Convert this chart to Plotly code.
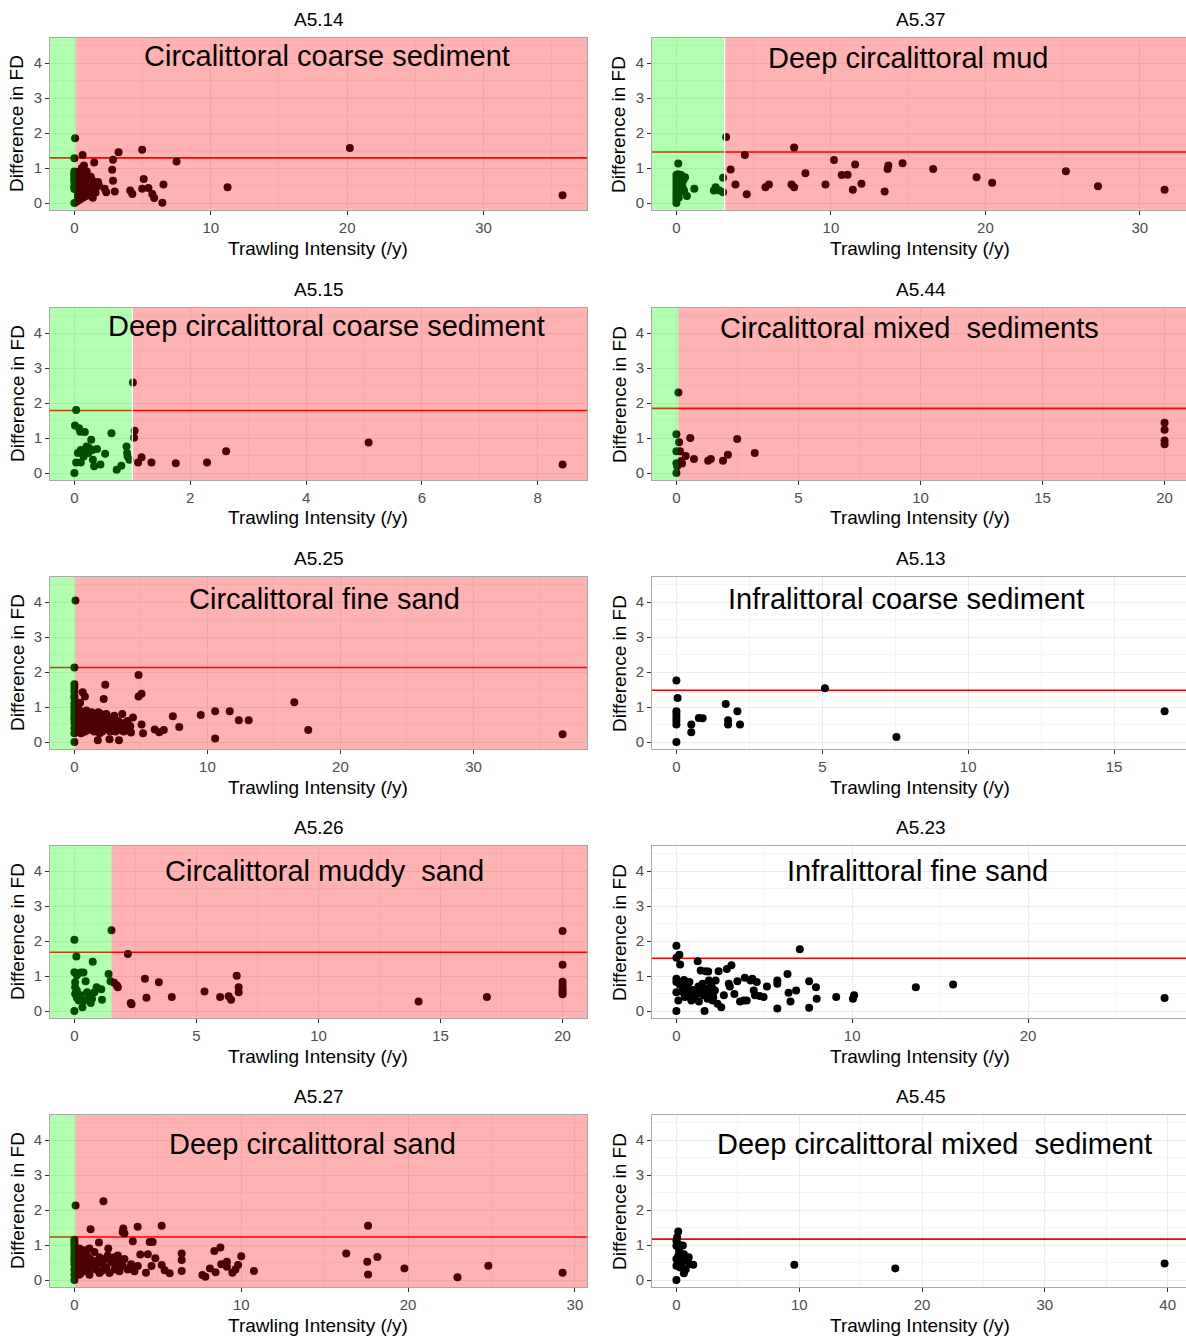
import plotly.graph_objects as go

# ---------------- data ----------------
codes = ["A5.14", "A5.37", "A5.15", "A5.44", "A5.25", "A5.13", "A5.26", "A5.23", "A5.27", "A5.45"]
habitats = ["Circalittoral coarse sediment", "Deep circalittoral mud",
            "Deep circalittoral coarse sediment", "Circalittoral mixed  sediments",
            "Circalittoral fine sand", "Infralittoral coarse sediment",
            "Circalittoral muddy  sand", "Infralittoral fine sand",
            "Deep circalittoral sand", "Deep circalittoral mixed  sediment"]
fd_threshold = [1.29, 1.46, 1.79, 1.85, 2.13, 1.48, 1.68, 1.51, 1.23, 1.17]
ti_threshold = [0.1, 3.12, 1.0, 0.08, 0.05, None, 1.52, None, 0.05, None]
x_dtick = [10, 10, 2, 5, 10, 5, 5, 10, 10, 10]

pts_a514 = [(0, 0.0), (0, 0.4), (0, 0.45), (0, 0.5), (0, 0.6), (0, 0.65), (0, 0.7), (0, 0.75), (0, 0.8),
            (0, 0.85), (0, 0.9), (0, 1.28), (0.05, 1.85),
            (0.2, 0.05), (0.25, 0.2), (0.3, 0.35), (0.3, 0.55), (0.35, 0.75), (0.4, 0.9), (0.45, 0.45),
            (0.5, 0.25), (0.5, 0.6), (0.55, 1.0), (0.6, 1.37), (0.63, 0.15), (0.7, 1.07), (0.7, 0.5),
            (0.75, 0.35), (0.8, 0.65), (0.85, 0.2), (0.9, 0.45), (0.95, 0.55), (1.0, 0.3), (1.05, 0.7),
            (1.1, 0.45), (1.15, 0.6), (1.2, 0.25), (1.25, 0.5), (1.3, 0.65), (1.35, 0.15), (1.4, 0.4),
            (1.45, 1.16), (1.5, 0.55), (1.55, 0.3), (1.6, 0.45), (1.8, 0.5), (0.4, 0.1), (0.6, 0.8),
            (0.9, 0.9), (1.2, 0.75), (0.35, 0.65), (0.55, 0.4), (0.25, 0.3), (0.45, 0.7), (0.65, 0.55),
            (0.85, 0.35), (1.73, 0.6), (2.22, 0.41), (2.33, 0.31), (2.77, 0.95), (2.83, 1.24), (2.83, 0.64),
            (2.96, 0.33), (3.24, 1.45), (4.09, 0.36), (4.25, 0.26), (4.97, 1.52), (4.97, 0.41), (5.08, 0.69),
            (5.43, 0.43), (5.71, 0.26), (5.85, 0.14), (6.45, 0.01), (6.53, 0.53), (7.49, 1.19), (11.23, 0.45),
            (20.2, 1.57), (35.8, 0.22)]

pts_a537 = [(0, 0), (0, 0.1), (0, 0.2), (0, 0.3), (0, 0.4), (0, 0.5), (0, 0.6), (0, 0.7), (0, 0.8),
            (0.05, 0.25), (0.05, 0.55), (0.1, 0.35), (0.1, 0.65), (0.1, 0.82), (0.15, 0.15), (0.15, 0.45),
            (0.2, 0.3), (0.2, 0.75), (0.25, 0.5), (0.25, 0.6), (0.3, 0.4), (0.3, 0.8), (0.35, 0.55),
            (0.4, 0.45), (0.45, 0.65), (0.5, 0.35), (0.56, 0.74), (0.68, 0.2), (0.12, 1.13),
            (1.16, 0.41), (2.42, 0.36), (2.54, 0.45), (2.78, 0.36), (3.02, 0.72), (3.02, 0.31),
            (3.22, 1.89), (3.51, 0.96), (3.82, 0.53), (4.43, 1.37), (4.55, 0.25), (5.76, 0.45), (5.99, 0.53),
            (7.45, 0.53), (7.62, 0.45), (7.62, 1.59), (8.35, 0.85), (9.65, 0.53), (10.2, 1.23), (10.7, 0.8),
            (11.08, 0.81), (11.42, 0.38), (11.57, 1.1), (11.98, 0.55), (13.48, 0.33), (13.67, 0.97),
            (13.72, 1.07), (14.64, 1.14), (16.62, 0.97), (19.43, 0.74), (20.44, 0.58), (25.21, 0.91),
            (27.29, 0.48), (31.6, 0.38)]

pts_a515 = [(0.03, 1.8), (0, 0), (0.01, 1.36), (0.08, 1.28), (0.1, 1.18), (0.18, 1.17), (0.03, 0.3),
            (0.06, 0.57), (0.11, 0.3), (0.16, 0.47), (0.18, 0.62), (0.21, 0.76), (0.24, 0.57), (0.26, 0.71),
            (0.29, 0.95), (0.31, 0.66), (0.32, 0.38), (0.34, 0.19), (0.39, 0.69), (0.45, 0.24), (0.53, 0.55),
            (0.64, 1.14), (0.73, 0.09), (0.81, 0.21), (0.9, 0.76), (0.91, 0.57), (0.92, 0.47), (0.95, 0.38),
            (0.11, 0.66), (0.21, 0.59),
            (1.01, 2.59), (1.04, 1.21), (1.03, 1.01), (1.1, 0.3), (1.16, 0.45), (1.33, 0.3), (1.75, 0.28),
            (2.29, 0.3), (2.62, 0.62), (5.08, 0.87), (8.43, 0.24)]

pts_a544 = [(0, 0), (0, 0.28), (0.03, 0.19), (0, 0.62), (0, 1.11), (0.08, 2.3), (0.11, 0.88), (0.15, 0.62),
            (0.2, 0.34), (0.23, 0.27), (0.38, 0.49), (0.57, 1.0), (0.72, 0.4), (1.3, 0.35), (1.41, 0.4),
            (1.91, 0.35), (2.11, 0.52), (2.49, 0.97), (3.21, 0.57), (20, 1.44), (20, 1.24), (20, 0.93),
            (20, 0.82)]

pts_a525 = [(0, 0), (0, 0.25), (0, 0.4), (0, 0.55), (0, 0.65), (0, 0.72), (0, 0.8), (0, 0.9), (0, 1.0),
            (0, 1.1), (0, 1.25), (0, 1.32), (0, 1.45), (0, 1.55), (0, 1.65), (0, 2.13), (0.08, 4.05),
            (0.15, 0.55), (0.2, 0.8), (0.25, 0.35), (0.3, 0.65), (0.35, 0.9), (0.4, 0.45), (0.45, 0.7),
            (0.5, 0.25), (0.55, 0.6), (0.6, 0.85), (0.65, 0.4), (0.7, 0.75), (0.75, 0.5), (0.8, 0.3),
            (0.85, 0.65), (0.9, 0.9), (0.95, 0.45), (1.0, 0.7), (1.05, 0.55), (1.1, 0.35), (1.15, 0.8),
            (1.2, 0.6), (1.3, 0.45), (1.4, 0.75), (1.5, 0.3), (1.6, 0.65), (1.7, 0.5), (1.8, 0.85),
            (1.9, 0.4), (2.0, 0.6), (2.1, 0.3), (2.2, 0.7), (2.3, 0.5), (2.4, 0.8), (2.5, 0.45), (2.6, 0.35),
            (2.7, 0.65), (2.8, 0.55), (2.9, 0.4), (3.0, 0.75), (3.1, 0.3), (3.2, 0.5), (3.3, 0.6),
            (3.4, 0.35), (3.5, 0.45), (3.6, 0.8), (3.7, 0.3), (3.8, 0.55), (3.9, 0.4), (4.0, 0.6),
            (4.2, 0.45), (4.4, 0.7), (0.3, 0.95), (0.5, 0.5), (0.7, 0.3), (0.9, 0.75), (1.1, 0.55),
            (1.3, 0.85), (1.5, 0.4), (1.7, 0.7), (1.9, 0.25), (2.1, 0.5), (2.3, 0.6), (2.5, 0.4), (2.7, 0.3),
            (0.4, 0.6), (0.8, 0.45), (1.2, 0.65), (1.6, 0.35), (2.0, 0.8), (2.4, 0.55), (2.8, 0.7),
            (0.62, 1.42), (0.79, 1.3), (0.43, 1.12), (2.2, 1.23), (2.32, 1.64), (4.82, 1.92), (4.82, 1.3),
            (5.05, 1.38), (5.05, 0.5), (5.16, 0.25), (4.25, 0.27), (1.76, 0.05), (2.64, 0.08), (3.35, 0.05),
            (6.04, 0.36), (6.38, 0.28), (6.72, 0.34), (7.4, 0.74), (7.88, 0.43), (9.5, 0.77), (10.58, 0.1),
            (10.58, 0.88), (11.68, 0.88), (12.36, 0.62), (13.1, 0.62), (16.53, 1.14), (17.58, 0.34),
            (36.7, 0.22)]

pts_a513 = [(0, 1.76), (0.04, 1.26), (0, 0.88), (0, 0.79), (0, 0.69), (0, 0.6), (0, 0.5), (0, 0),
            (0.51, 0.5), (0.51, 0.28), (0.77, 0.69), (0.9, 0.68), (1.69, 1.09), (1.77, 0.62), (1.77, 0.5),
            (2.09, 0.88), (2.18, 0.5), (5.09, 1.54), (7.54, 0.14), (16.73, 0.88)]

pts_a526 = [(0, 2.04), (0.08, 1.56), (0, 1.11), (0.1, 1.02), (0.26, 1.1), (0.37, 1.1), (0.46, 0.85),
            (0.75, 1.41), (0, 0), (0.03, 0.68), (0.03, 0.49), (0.1, 0.38), (0.18, 0.3), (0.26, 0.45),
            (0.33, 0.11), (0.41, 0.3), (0.52, 0.54), (0.61, 0.42), (0.67, 0.23), (0.72, 0.35), (0.82, 0.54),
            (0.91, 0.68), (1.1, 0.62), (1.13, 0.32), (1.4, 1.06), (1.48, 0.85), (0.03, 0.82), (0.1, 0.59),
            (1.52, 2.31), (1.63, 0.81), (1.74, 0.73), (1.78, 0.68), (2.19, 1.63), (2.31, 0.23), (2.34, 0.19),
            (2.89, 0.92), (2.95, 0.38), (3.46, 0.82), (3.99, 0.4), (5.33, 0.56), (5.97, 0.4), (6.32, 0.42),
            (6.42, 0.32), (6.65, 1.01), (6.73, 0.68), (6.73, 0.54), (14.1, 0.27), (16.9, 0.4), (20, 2.29),
            (20, 1.32), (20, 0.84), (20, 0.73), (20, 0.62), (20, 0.55), (20, 0.48)]

pts_a523 = [(0, 1.87), (0, 1.52), (0.17, 1.61), (0.21, 1.33), (1.21, 1.42), (1.38, 1.16), (1.66, 1.14),
            (1.81, 1.13), (2.4, 1.14), (2.87, 1.2), (3.13, 1.31), (7.02, 1.77), (0, 0.92), (0, 0.83),
            (0, 0.54), (0, 0), (0.11, 0.3), (0.43, 0.89), (0.53, 0.68), (0.64, 0.49), (0.74, 0.83),
            (0.85, 0.3), (1.0, 0.59), (1.17, 0.49), (1.28, 0.27), (1.6, 0.0), (1.49, 0.78), (1.7, 0.63),
            (1.77, 0.35), (1.85, 0.87), (1.91, 0.49), (2.02, 0.68), (2.06, 0.3), (2.19, 0.59), (2.23, 0.87),
            (2.34, 0.21), (2.55, 0.11), (2.7, 0.45), (2.98, 0.78), (3.04, 0.7), (3.3, 0.49), (3.47, 0.85),
            (3.62, 0.27), (3.83, 0.3), (4.0, 0.3), (3.89, 0.95), (4.21, 0.87), (4.32, 0.92), (4.57, 0.83),
            (4.4, 0.59), (4.47, 0.45), (4.74, 0.43), (4.96, 0.4), (5.15, 0.7), (5.74, 0.07), (5.74, 0.78),
            (5.74, 0.87), (6.32, 1.06), (6.38, 0.52), (6.49, 0.27), (6.81, 0.59), (7.55, 0.85), (7.55, 0.09),
            (7.94, 0.68), (7.98, 0.35), (9.09, 0.4), (10.04, 0.35), (10.11, 0.45), (13.62, 0.68),
            (15.74, 0.76), (27.77, 0.37), (0.32, 0.55), (0.48, 0.4), (0.66, 0.8), (0.9, 0.6), (1.05, 0.4),
            (1.35, 0.6), (1.55, 0.45), (1.95, 0.8), (2.1, 0.4), (0.2, 0.75), (0.8, 0.5), (1.25, 0.7)]

pts_a527 = [(0, 0), (0, 0.15), (0, 0.3), (0, 0.45), (0, 0.55), (0, 0.62), (0, 0.7), (0, 0.8), (0, 0.9),
            (0, 1.0), (0, 1.07), (0, 1.15), (0.07, 2.13),
            (0.15, 0.45), (0.2, 0.7), (0.25, 0.3), (0.3, 0.9), (0.35, 0.55), (0.4, 0.2), (0.45, 0.75),
            (0.5, 0.4), (0.55, 0.6), (0.6, 0.85), (0.65, 0.3), (0.7, 0.5), (0.75, 0.7), (0.8, 0.25),
            (0.85, 0.45), (0.9, 0.9), (0.95, 0.6), (1.0, 0.35), (1.1, 0.55), (1.2, 0.8), (1.3, 0.3),
            (1.4, 0.5), (1.5, 0.65), (1.6, 0.25), (1.7, 0.45), (1.8, 0.6), (1.9, 0.35), (2.0, 0.7),
            (2.1, 0.2), (2.2, 0.5), (2.3, 0.6), (2.4, 0.3), (2.5, 0.45), (2.6, 0.7), (2.7, 0.25),
            (2.8, 0.55), (2.9, 0.4), (3.0, 0.6), (3.2, 0.3), (3.4, 0.45), (3.6, 0.25), (3.8, 0.4),
            (0.3, 0.15), (0.6, 0.35), (0.9, 0.15), (1.2, 0.4), (1.5, 0.2), (1.8, 0.3), (2.4, 0.65),
            (0.97, 1.45), (1.47, 1.07), (1.74, 2.25), (2.03, 0.9), (2.89, 1.37), (2.93, 1.47), (3.0, 1.33),
            (3.5, 1.11), (3.79, 1.52), (3.95, 0.73), (4.4, 0.74), (4.51, 1.09), (4.69, 1.09), (4.62, 0.4),
            (4.29, 0.21), (5.23, 1.55), (4.85, 0.62), (5.23, 0.43), (5.41, 0.28), (5.71, 0.19), (6.43, 0.76),
            (6.43, 0.57), (6.43, 0.26), (7.67, 0.14), (7.85, 0.09), (8.12, 0.33), (8.46, 0.22), (8.39, 0.83),
            (8.75, 0.93), (8.8, 0.45), (9.14, 0.52), (9.14, 0.38), (9.47, 0.21), (9.65, 0.3), (9.81, 0.43),
            (10.0, 0.68), (10.76, 0.26), (16.29, 0.76), (17.6, 1.55), (17.55, 0.52), (17.6, 0.16),
            (18.16, 0.66), (19.78, 0.33), (22.96, 0.08), (24.81, 0.41), (29.26, 0.21)]

pts_a545 = [(0, 0), (0, 0.41), (0, 0.6), (0, 0.98), (0, 1.12), (0.06, 1.22), (0.15, 1.39), (0.15, 1.03),
            (0.21, 0.84), (0.3, 0.6), (0.3, 0.36), (0.46, 0.5), (0.52, 0.99), (0.61, 0.74), (0.61, 0.19),
            (0.76, 0.31), (0.85, 0.57), (1.0, 0.65), (1.07, 0.46), (1.37, 0.44), (0.15, 0.69), (9.6, 0.44),
            (17.82, 0.33), (39.75, 0.47)]

panel_points = [pts_a514, pts_a537, pts_a515, pts_a544, pts_a525,
                pts_a513, pts_a526, pts_a523, pts_a527, pts_a545]

# ---------------- layout geometry (reference pixels) ----------------
W, H = 1186, 1340
row_top = [38, 308, 577, 846, 1115]
PH = 172
col_left = [50, 652]
PW = 537
Y_RANGE = [-0.2, 4.72]
label_px = [(327, 56), (908, 58), (326, 326), (909, 328), (324, 599),
            (906, 599), (324, 871), (917, 871), (312, 1144), (934, 1144)]


def fx(p):
    return p / W


def fy(p):
    return 1 - p / H


FONT = "Liberation Sans, Arial, Helvetica, sans-serif"

fig = go.Figure()
annotations = []
shapes = []
layout = {}

for i, code in enumerate(codes):
    r, c = divmod(i, 2)
    k = i + 1
    xs = [p[0] for p in panel_points[i]]
    ys = [p[1] for p in panel_points[i]]
    xmin, xmax = min(xs), max(xs)
    span = xmax - xmin
    lo, hi = xmin - 0.05 * span, xmax + 0.05 * span
    x0 = col_left[c]
    x1 = x0 + PW
    if x1 > W:  # the reference's right column is cut by the image edge
        hi = lo + (hi - lo) * (W - x0) / PW
        x1 = W
    top = row_top[r]
    xa = "x" if k == 1 else f"x{k}"
    ya = "y" if k == 1 else f"y{k}"
    dt = x_dtick[i]
    layout[f"xaxis{'' if k == 1 else k}"] = dict(
        domain=[fx(x0), fx(x1)], anchor=ya, range=[lo, hi], tick0=0, dtick=dt,
        showgrid=True, gridcolor="#EBEBEB", gridwidth=1,
        minor=dict(dtick=dt / 2, showgrid=True, gridcolor="#F4F4F4", gridwidth=0.6),
        zeroline=False, showline=True, mirror=True, linecolor="#A8A8A8", linewidth=1,
        ticks="outside", ticklen=4, tickcolor="#333333", tickwidth=1,
        tickfont=dict(size=15, color="#4D4D4D", family=FONT))
    layout[f"yaxis{'' if k == 1 else k}"] = dict(
        domain=[fy(top + PH), fy(top)], anchor=xa, range=Y_RANGE, tick0=0, dtick=1,
        showgrid=True, gridcolor="#EBEBEB", gridwidth=1,
        minor=dict(dtick=0.5, showgrid=True, gridcolor="#F4F4F4", gridwidth=0.6),
        zeroline=False, showline=True, mirror=True, linecolor="#A8A8A8", linewidth=1,
        ticks="outside", ticklen=4, tickcolor="#333333", tickwidth=1,
        tickfont=dict(size=15, color="#4D4D4D", family=FONT))

    # FD threshold line
    fig.add_trace(go.Scatter(x=[lo - 5, hi + 5], y=[fd_threshold[i]] * 2, mode="lines",
                             line=dict(color="red", width=1.6), xaxis=xa, yaxis=ya,
                             hoverinfo="skip", showlegend=False))
    fig.add_trace(go.Scatter(x=xs, y=ys, mode="markers",
                             marker=dict(color="black", size=8, line=dict(width=0)),
                             xaxis=xa, yaxis=ya, showlegend=False))

    thr = ti_threshold[i]
    if thr is not None:
        shapes.append(dict(type="rect", xref=xa, yref=f"{ya} domain", x0=lo - 5, x1=thr, y0=0, y1=1,
                           fillcolor="rgba(0,255,0,0.3)", line=dict(width=0), layer="above"))
        shapes.append(dict(type="rect", xref=xa, yref=f"{ya} domain", x0=thr, x1=hi + 5, y0=0, y1=1,
                           fillcolor="rgba(255,0,0,0.3)", line=dict(width=0), layer="above"))
        if code in ("A5.37", "A5.15"):
            shapes.append(dict(type="line", xref=xa, yref=f"{ya} domain", x0=thr, x1=thr, y0=0, y1=1,
                               line=dict(color="white", width=1.2), layer="above"))

    cx = col_left[c] + PW / 2
    # panel title
    annotations.append(dict(text=code, x=fx(cx), y=fy(top - 19), xref="paper", yref="paper",
                            showarrow=False, xanchor="center", yanchor="middle", borderpad=0,
                            font=dict(size=19, color="black", family=FONT)))
    # habitat label
    lx, ly = label_px[i]
    annotations.append(dict(text=habitats[i], x=fx(lx), y=fy(ly), xref="paper", yref="paper",
                            showarrow=False, xanchor="center", yanchor="middle",
                            font=dict(size=29, color="black", family=FONT)))
    # axis titles
    annotations.append(dict(text="Trawling Intensity (/y)", x=fx(cx - 1), y=fy(top + 210),
                            xref="paper", yref="paper", showarrow=False, xanchor="center",
                            yanchor="middle", font=dict(size=19, color="black", family=FONT)))
    annotations.append(dict(text="Difference in FD", x=fx(x0 - 33), y=fy(top + 86),
                            xref="paper", yref="paper", showarrow=False, xanchor="center",
                            yanchor="middle", textangle=-90, borderpad=0,
                            font=dict(size=19, color="black", family=FONT)))

fig.update_layout(width=W, height=H, margin=dict(l=0, r=0, t=0, b=0),
                  paper_bgcolor="white", plot_bgcolor="white",
                  annotations=annotations, shapes=shapes, showlegend=False,
                  font=dict(family=FONT), **layout)

fig.write_html("out.html", config={"displayModeBar": False},
               post_script="document.body.style.margin='0';document.body.style.overflow='hidden';")
